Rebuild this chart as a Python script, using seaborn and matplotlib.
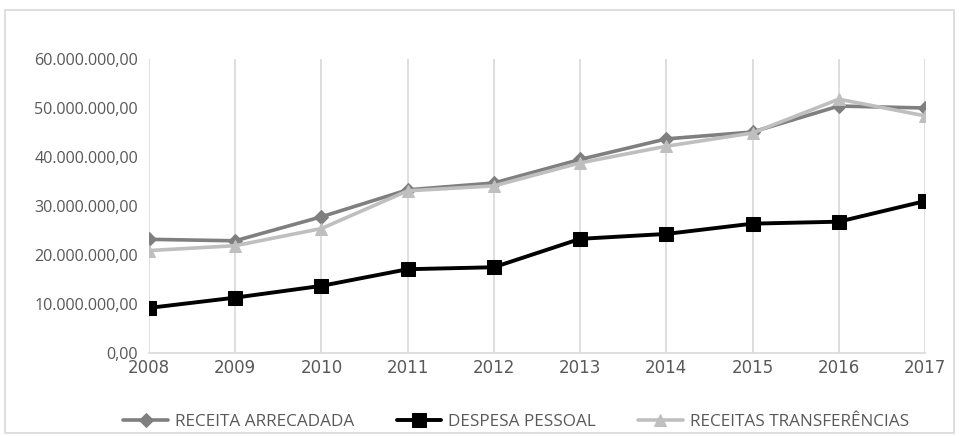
import matplotlib
matplotlib.use("Agg")
import matplotlib.pyplot as plt
from matplotlib.patches import Rectangle
import seaborn as sns
import pandas as pd

# Annual series (R$)
years = [2008, 2009, 2010, 2011, 2012, 2013, 2014, 2015, 2016, 2017]
receita_arrecadada = [23.2e6, 22.9e6, 27.8e6, 33.3e6, 34.7e6, 39.5e6, 43.7e6, 45.1e6, 50.4e6, 50.0e6]
despesa_pessoal = [9.2e6, 11.3e6, 13.7e6, 17.1e6, 17.5e6, 23.3e6, 24.3e6, 26.4e6, 26.8e6, 31.0e6]
receitas_transferencias = [20.9e6, 21.9e6, 25.4e6, 33.1e6, 34.1e6, 38.8e6, 42.2e6, 44.9e6, 51.8e6, 48.4e6]

series_names = ["RECEITA ARRECADADA", "DESPESA PESSOAL", "RECEITAS TRANSFERÊNCIAS"]
y_ticks = [0, 10e6, 20e6, 30e6, 40e6, 50e6, 60e6]
y_tick_labels = ["0,00", "10.000.000,00", "20.000.000,00", "30.000.000,00",
                 "40.000.000,00", "50.000.000,00", "60.000.000,00"]

df = pd.DataFrame({
    "ano": years * 3,
    "valor": receita_arrecadada + despesa_pessoal + receitas_transferencias,
    "serie": [series_names[0]] * len(years) + [series_names[1]] * len(years)
             + [series_names[2]] * len(years),
})

sns.set_theme(style="white")
plt.rcParams["font.family"] = ["Open Sans", "DejaVu Sans"]

text_color = "#595959"
grid_color = "#d9d9d9"

fig = plt.figure(figsize=(9.59, 4.36), dpi=100)
ax = fig.add_axes([149 / 959, 1 - 353 / 436, (925 - 149) / 959, (353 - 59) / 436])

styles = {
    series_names[0]: dict(color="#7f7f7f", marker="D", markersize=7, linewidth=2.6),
    series_names[1]: dict(color="#000000", marker="s", markersize=10.5, linewidth=2.8),
    series_names[2]: dict(color="#bfbfbf", marker="^", markersize=9, linewidth=2.6),
}

for name in series_names:
    sub = df[df["serie"] == name]
    st = styles[name]
    sns.lineplot(data=sub, x="ano", y="valor", ax=ax, color=st["color"],
                 linewidth=st["linewidth"], marker=st["marker"],
                 markersize=st["markersize"], markeredgecolor=st["color"],
                 markerfacecolor=st["color"], label=name, zorder=3)

ax.set_xlim(years[0], years[-1])
ax.set_ylim(y_ticks[0], y_ticks[-1])
ax.set_xticks(years)
ax.set_xticklabels([str(y) for y in years], fontsize=12, color=text_color,
                   family=["DejaVu Sans"])
ax.set_yticks(y_ticks)
ax.set_yticklabels(y_tick_labels, fontsize=11.6, color=text_color)
ax.tick_params(axis="x", length=0, pad=4)
ax.tick_params(axis="y", length=0, pad=8)
ax.set_xlabel("")
ax.set_ylabel("")

ax.grid(axis="x", color=grid_color, linewidth=1.2)
ax.grid(axis="y", visible=False)
for side in ["top", "right", "left"]:
    ax.spines[side].set_visible(False)
ax.spines["bottom"].set_color(grid_color)
ax.spines["bottom"].set_linewidth(1.2)

handles, labels = ax.get_legend_handles_labels()
ax.legend_.remove()
leg = fig.legend(handles, labels, loc="center", bbox_to_anchor=(516 / 959, 1 - 422 / 436),
                 ncol=3, frameon=False, handlelength=2.6, handletextpad=0.4,
                 columnspacing=2.5, fontsize=12.3)
for t in leg.get_texts():
    t.set_color(text_color)

# light frame around the chart area
fig.patches.append(Rectangle((5 / 959, 1 - 433 / 436), (954 - 5) / 959, (433 - 10) / 436,
                             transform=fig.transFigure, fill=False,
                             edgecolor=grid_color, linewidth=1.2))

fig.savefig("out.png", dpi=100)
